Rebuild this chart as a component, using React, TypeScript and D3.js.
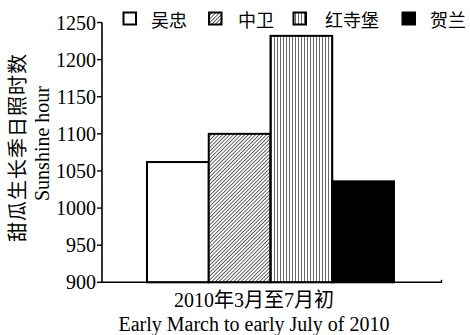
import React from "react";
import * as d3 from "d3";

const sites = ["吴忠", "中卫", "红寺堡", "贺兰"];
const hours = [1062, 1100, 1232, 1036];
const fills = ["#ffffff", "url(#hatch)", "url(#vlines)", "#000000"];
const yTicks = [900, 950, 1000, 1050, 1100, 1150, 1200, 1250];
const xLabelZh = "2010年3月至7月初";
const xLabelEn = "Early March to early July of 2010";
const yLabelZh = "甜瓜生长季日照时数";
const yLabelEn = "Sunshine hour";

const W = 470;
const H = 335;
const FONT = "'Liberation Serif', 'Times New Roman', 'Noto Sans CJK SC', serif";

export default function App() {
  const y = d3.scaleLinear().domain([900, 1250]).range([282.3, 22.5]);
  const x = d3.scaleBand<string>().domain(sites).range([147, 394]).paddingInner(0);
  const axisX = 102;
  const axisEnd = 442;
  const legendBoxes = [123.5, 209, 293.5, 402.5];
  const legendText = [151, 238, 325, 430];

  return (
    <svg width={W} height={H} style={{ position: "absolute", left: 0, top: 0, background: "#fff" }}>
      <defs>
        <pattern id="hatch" width="2.6" height="2.6" patternUnits="userSpaceOnUse" patternTransform="rotate(45)">
          <rect width="2.6" height="2.6" fill="#ffffff" />
          <line x1="0" y1="0" x2="0" y2="2.6" stroke="#222" strokeWidth="1.4" />
        </pattern>
        <pattern id="vlines" width="3" height="3" patternUnits="userSpaceOnUse">
          <rect width="3" height="3" fill="#ffffff" />
          <line x1="1.5" y1="0" x2="1.5" y2="3" stroke="#555" strokeWidth="0.9" />
        </pattern>
      </defs>

      {/* bars */}
      {sites.map((s, i) => (
        <rect
          key={s}
          x={x(s)!}
          y={y(hours[i])}
          width={x.bandwidth()}
          height={y(900) - y(hours[i])}
          fill={fills[i]}
          stroke="#000"
          strokeWidth={2}
        />
      ))}

      {/* y axis */}
      <line x1={axisX} x2={axisX} y1={y(1250)} y2={y(900)} stroke="#000" strokeWidth={1.6} />
      {yTicks.map((t) => (
        <g key={t}>
          <line x1={axisX - 5} x2={axisX} y1={y(t)} y2={y(t)} stroke="#000" strokeWidth={1.4} />
          <text
            x={axisX - 6}
            y={y(t)}
            textAnchor="end"
            dominantBaseline="central"
            fontFamily={FONT}
            fontSize={20}
          >
            {t}
          </text>
        </g>
      ))}

      {/* x axis */}
      <line x1={axisX} x2={axisEnd} y1={y(900)} y2={y(900)} stroke="#000" strokeWidth={1.6} />
      <line x1={axisEnd - 0.5} x2={axisEnd - 0.5} y1={y(900)} y2={y(900) - 2.5} stroke="#000" strokeWidth={1.4} />

      <text x={254} y={307} textAnchor="middle" fontFamily={FONT} fontSize={20}>
        {xLabelZh}
      </text>
      <text x={254} y={331} textAnchor="middle" fontFamily={FONT} fontSize={20}>
        {xLabelEn}
      </text>

      {/* y axis titles */}
      <text
        transform="translate(16,147.5) rotate(-90)"
        textAnchor="middle"
        dominantBaseline="central"
        fontFamily="'Noto Sans CJK SC', sans-serif"
        fontSize={20}
        letterSpacing={1}
      >
        {yLabelZh}
      </text>
      <text
        transform="translate(49,143.5) rotate(-90)"
        textAnchor="middle"
        fontFamily={FONT}
        fontSize={20}
      >
        {yLabelEn}
      </text>

      {/* legend */}
      {sites.map((s, i) => (
        <g key={"lg" + s}>
          <rect
            x={legendBoxes[i]}
            y={12.5}
            width={12.5}
            height={12}
            fill={fills[i]}
            stroke="#000"
            strokeWidth={2}
          />
          <text
            x={legendText[i]}
            y={19}
            dominantBaseline="central"
            fontFamily="'Noto Sans CJK SC', sans-serif"
            fontSize={18}
          >
            {s}
          </text>
        </g>
      ))}
    </svg>
  );
}
